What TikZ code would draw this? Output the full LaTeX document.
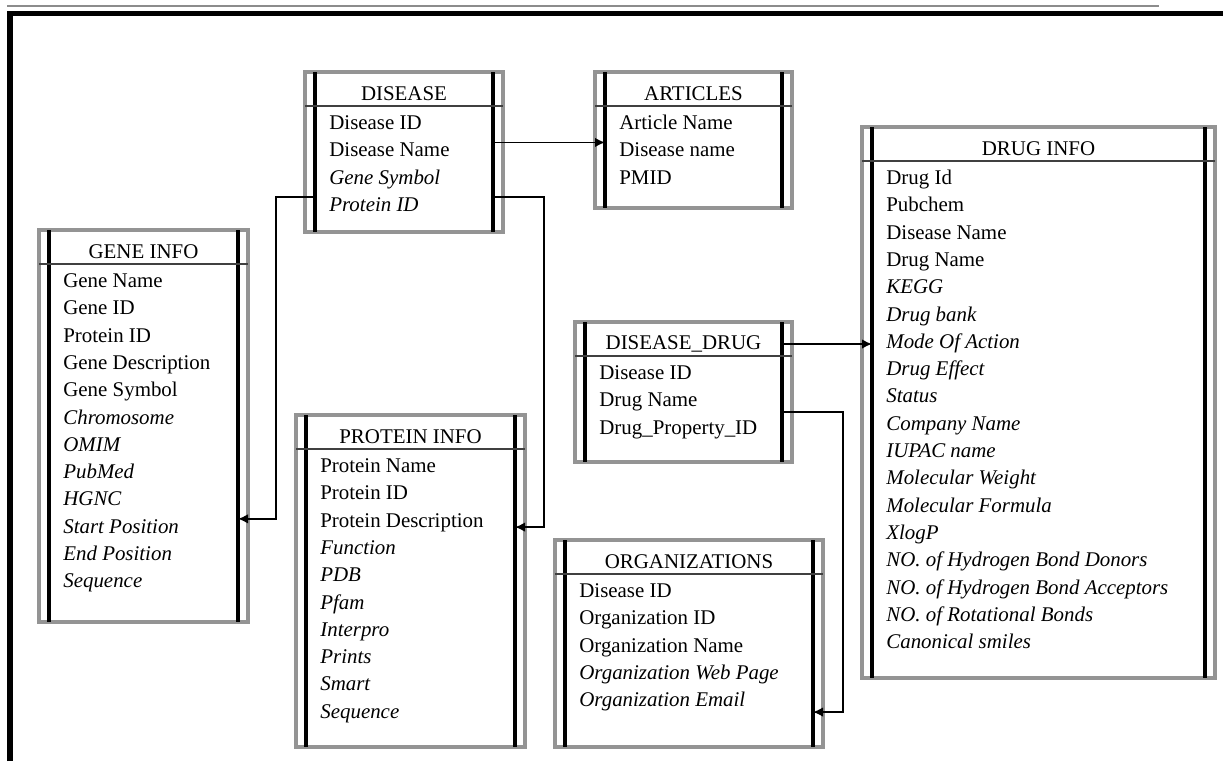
\documentclass[tikz,border=0pt]{standalone}
\usepackage{fontspec}
\setmainfont{Liberation Serif}
\usetikzlibrary{arrows.meta,fit}
\newcommand{\tblfont}{\fontsize{11.9}{14}\selectfont}
\tikzset{
  >={Latex[length=2mm,width=1.9mm]},
  tblframe/.style={draw=black!42,line width=0.07cm},
  tblinner/.style={inner sep=0pt,outer sep=0pt,draw=none},
  tblbar/.style={black,line width=0.065cm},
  tblrule/.style={black!75,line width=0.03cm},
  tbltitle/.style={inner sep=0pt,font=\tblfont},
  tblrow/.style={anchor=west,inner sep=0pt,text height=0.28cm,
    text depth=0.1cm,font=\tblfont},
  flow/.style={->,line width=0.9pt},
  pageline/.style={black!45,line width=0.03cm},
  pageedge/.style={black,line width=0.11cm},
}
% one table: name, outer box (left, top, right, bottom), title, fields
\newcommand{\dbtable}[7]{%
  \draw[tblframe] (#2,#3) rectangle (#4,#5);
  \node[tblinner,fit={(#2+10,#3) (#4-10,#5)}] (#1) {};
  \draw[tblbar] (#1.north west) -- (#1.south west) (#1.north east) -- (#1.south east);
  \draw[tblrule] (#2,#3+34) -- (#4,#3+34);
  \node[tbltitle] (#1-title) at ({(#2+#4)/2},#3+22) {#6};
  \foreach \fld [count=\i] in {#7}
    \node[tblrow] (#1-\i) at (#2+24,{#3+53+27.3*(\i-1)}) {\fld};
}

\begin{document}
\begin{tikzpicture}[x=0.02cm,y=-0.02cm]
  \useasboundingbox (0,0) rectangle (1223,761);
  \draw[pageline] (7,6) -- (1159,6);
  \draw[pageedge] (10,761) -- (10,13.5) -- (1223,13.5);

  \dbtable{disease}{305}{72}{503}{232}{DISEASE}{Disease ID,Disease Name,\textit{Gene Symbol},\textit{Protein ID}}
  \dbtable{articles}{595}{72}{792}{208}{ARTICLES}{Article Name,Disease name,PMID}
  \dbtable{geneinfo}{39}{230}{248}{622}{GENE INFO}{Gene Name,Gene ID,Protein ID,Gene Description,Gene Symbol,\textit{Chromosome},\textit{OMIM},\textit{PubMed},\textit{HGNC},\textit{Start Position},\textit{End Position},\textit{Sequence}}
  \dbtable{proteininfo}{296}{415}{525}{747}{PROTEIN INFO}{Protein Name,Protein ID,Protein Description,\textit{Function},\textit{PDB},\textit{Pfam},\textit{Interpro},\textit{Prints},\textit{Smart},\textit{Sequence}}
  \dbtable{diseasedrug}{575}{322}{792}{462}{DISEASE\_DRUG}{Disease ID,Drug Name,Drug\_Property\_ID}
  \dbtable{organizations}{555}{540}{823}{747}{ORGANIZATIONS}{Disease ID,Organization ID,Organization Name,\textit{Organization Web Page},\textit{Organization Email}}
  \dbtable{druginfo}{862}{127}{1215}{678}{DRUG INFO}{Drug Id,Pubchem,Disease Name,Drug Name,\textit{KEGG},\textit{Drug bank},\textit{Mode Of Action},\textit{Drug Effect},\textit{Status},\textit{Company Name},\textit{IUPAC name},\textit{Molecular Weight},\textit{Molecular Formula},\textit{XlogP},\textit{NO. of Hydrogen Bond Donors},\textit{NO. of Hydrogen Bond Acceptors},\textit{NO. of Rotational Bonds},\textit{Canonical smiles}}

  \draw[flow] (disease.east |- disease-2.north) -- (articles.west |- disease-2.north);
  \draw[flow] (disease.west |- disease-4.north) -- ++(-39,0) |- (geneinfo.east |- geneinfo-10.north);
  \draw[flow] (disease.east |- disease-4.north) -- ++(51,0) |- (proteininfo.east |- proteininfo-3.base);
  \draw[flow] (diseasedrug.east |- diseasedrug-title) -- (druginfo.west |- diseasedrug-title);
  \draw[flow] (diseasedrug.east |- diseasedrug-2.south) -- ++(61,0) |- (organizations.east |- organizations-5.south);
\end{tikzpicture}
\end{document}
